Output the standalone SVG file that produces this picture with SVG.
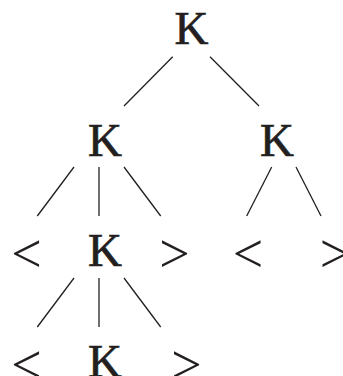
<svg xmlns="http://www.w3.org/2000/svg" width="343" height="376" viewBox="0 0 343 376">
<style>
.t{font-family:"Liberation Serif","Times New Roman",serif;font-size:47px;fill:#231f20;text-anchor:middle;stroke:#231f20;stroke-width:0.7}
.s{font-family:"Liberation Serif","Times New Roman",serif;font-size:54px;fill:#231f20;text-anchor:middle}
.e{stroke:#231f20;stroke-width:1.3;fill:none}
</style>
<rect width="343" height="376" fill="#fff"/>
<g id="connectors">
<line class="e" x1="172.7" y1="56.7" x2="124" y2="106"/>
<line class="e" x1="210" y1="56.7" x2="259" y2="106"/>
<line class="e" x1="74" y1="167" x2="37.3" y2="216"/>
<line class="e" x1="99" y1="167" x2="99" y2="216"/>
<line class="e" x1="124" y1="167" x2="160.7" y2="216"/>
<line class="e" x1="271.7" y1="167" x2="246.7" y2="216"/>
<line class="e" x1="296" y1="167" x2="321" y2="216"/>
<line class="e" x1="74" y1="278" x2="37.3" y2="327"/>
<line class="e" x1="99" y1="278" x2="99" y2="327"/>
<line class="e" x1="124" y1="278" x2="160.7" y2="327"/>
</g>
<g id="n0"><text class="t" x="191.5" y="44">K</text></g>
<g id="n1"><text class="t" x="105" y="155.5">K</text></g>
<g id="n2"><text class="t" x="277" y="155.5">K</text></g>
<g id="n3"><text class="s" x="26.5" y="272">&lt;</text></g>
<g id="n4"><text class="t" x="105" y="266">K</text></g>
<g id="n5"><text class="s" x="174.5" y="272">&gt;</text></g>
<g id="n6"><text class="s" x="248" y="272">&lt;</text></g>
<g id="n7"><text class="s" x="335" y="272">&gt;</text></g>
<g id="n8"><text class="s" x="26.5" y="383">&lt;</text></g>
<g id="n9"><text class="t" x="105" y="377">K</text></g>
<g id="n10"><text class="s" x="186.5" y="383">&gt;</text></g>
</svg>
